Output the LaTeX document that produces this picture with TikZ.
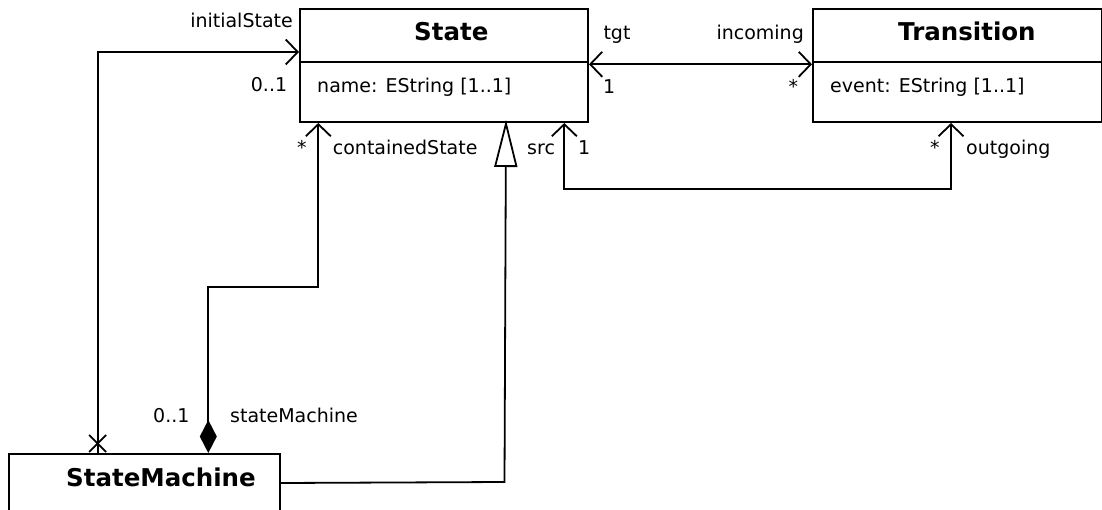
\documentclass[tikz,border=0pt]{standalone}
\usepackage{fontspec}
\setmainfont{DejaVu Sans}
\usetikzlibrary{arrows.meta}
\begin{document}
\begin{tikzpicture}[x=1pt,y=1pt,
  classbox/.style={draw=black,line width=2pt,fill=white,rectangle,inner sep=0pt,anchor=north west},
  shadowbox/.style={fill=black!35,rectangle,inner sep=0pt,anchor=north west},
  conn/.style={line width=1.8pt,line join=miter},
  barb/.tip={Straight Barb[length=12pt,width=25pt]},
  lbl/.style={inner sep=0pt,font=\fontsize{19}{22}\selectfont},
  ttl/.style={inner sep=0pt,font=\fontsize{24.5}{28}\selectfont\bfseries,anchor=base west}]
\useasboundingbox (0,0) rectangle (1102,-510);
% shadows
\node[shadowbox,minimum width=288pt,minimum height=113pt] (stateS) at (301,-10) {};
\node[shadowbox,minimum width=289pt,minimum height=113pt] (transS) at (814,-10) {};
\node[shadowbox,minimum width=271pt,minimum height=100pt] (smS) at (10,-455) {};
% boxes
\node[classbox,minimum width=288pt,minimum height=113pt] (state) at (299,-8) {};
\node[classbox,minimum width=289pt,minimum height=113pt] (trans) at (812,-8) {};
\node[classbox,minimum width=271pt,minimum height=100pt] (sm) at (8,-453) {};
\draw[line width=2pt] ([yshift=-54]state.north west) -- ([yshift=-54]state.north east);
\draw[line width=2pt] ([yshift=-54]trans.north west) -- ([yshift=-54]trans.north east);
% titles and attributes
\node[ttl] (stateT) at (414,-40.7) {State};
\node[ttl] (transT) at (898,-41) {Transition};
\node[ttl] (smT) at (66,-486) {StateMachine};
\node[lbl,anchor=base west] (stateA) at (317,-92.3) {name: EString [1..1]};
\node[lbl,anchor=base west] (transA) at (830,-92.3) {event: EString [1..1]};
% helper coordinates
\coordinate (ix) at (97.7,0);
\coordinate (dx) at (208.3,0);
\coordinate (cbend) at (318.3,-287);
\coordinate (gb) at (504.5,-482);
\coordinate (gx) at (506,0);
\coordinate (sx) at (564.3,0);
\coordinate (ox) at (951,-189);
\coordinate (xm) at (97.7,-443.5);
% initialState
\draw[conn,-{barb}] (sm.north -| ix) |- ([yshift=13.5]state.west);
\draw[conn] ([shift={(-8.5,8.5)}]xm) -- ([shift={(8.5,-8.5)}]xm);
\draw[conn] ([shift={(-8.5,-8.5)}]xm) -- ([shift={(8.5,8.5)}]xm);
% containedState (composition)
\draw[conn,{Diamond[length=33pt,width=17pt]}-{barb}] (sm.north -| dx) |- (cbend) -- (state.south -| cbend);
% generalization
\draw[conn,-{Triangle[open,length=47pt,width=23pt]}] ([yshift=21]sm.east) -- (gb) -- ([yshift=3]state.south -| gx);
% src / outgoing
\draw[conn,{barb}-{barb}] (state.south -| sx) |- (ox) -- (trans.south -| ox);
% tgt / incoming
\draw[conn,{barb}-{barb}] ([yshift=1.2]state.east) -- ([yshift=1.2]trans.west);
% labels
\node[lbl,anchor=base east] (l1) at (293,-28) {initialState};
\node[lbl,anchor=base west] (l2) at (250.7,-91.7) {0..1};
\node[lbl,anchor=base west] (l3) at (603.3,-40) {tgt};
\node[lbl,anchor=base east] (l4) at (804,-40) {incoming};
\node[lbl,anchor=base west] (l5) at (603,-93.3) {1};
\node[lbl,anchor=base west] (l6) at (788.5,-93.3) {*};
\node[lbl,anchor=base west] (l7) at (297,-155) {*};
\node[lbl,anchor=base west] (l8) at (332.7,-155) {containedState};
\node[lbl,anchor=base west] (l9) at (527,-155) {src};
\node[lbl,anchor=base west] (l10) at (578,-155) {1};
\node[lbl,anchor=base west] (l11) at (930,-155) {*};
\node[lbl,anchor=base west] (l12) at (966,-155) {outgoing};
\node[lbl,anchor=base west] (l13) at (153,-422.7) {0..1};
\node[lbl,anchor=base west] (l14) at (230,-422.7) {stateMachine};
\end{tikzpicture}
\end{document}
